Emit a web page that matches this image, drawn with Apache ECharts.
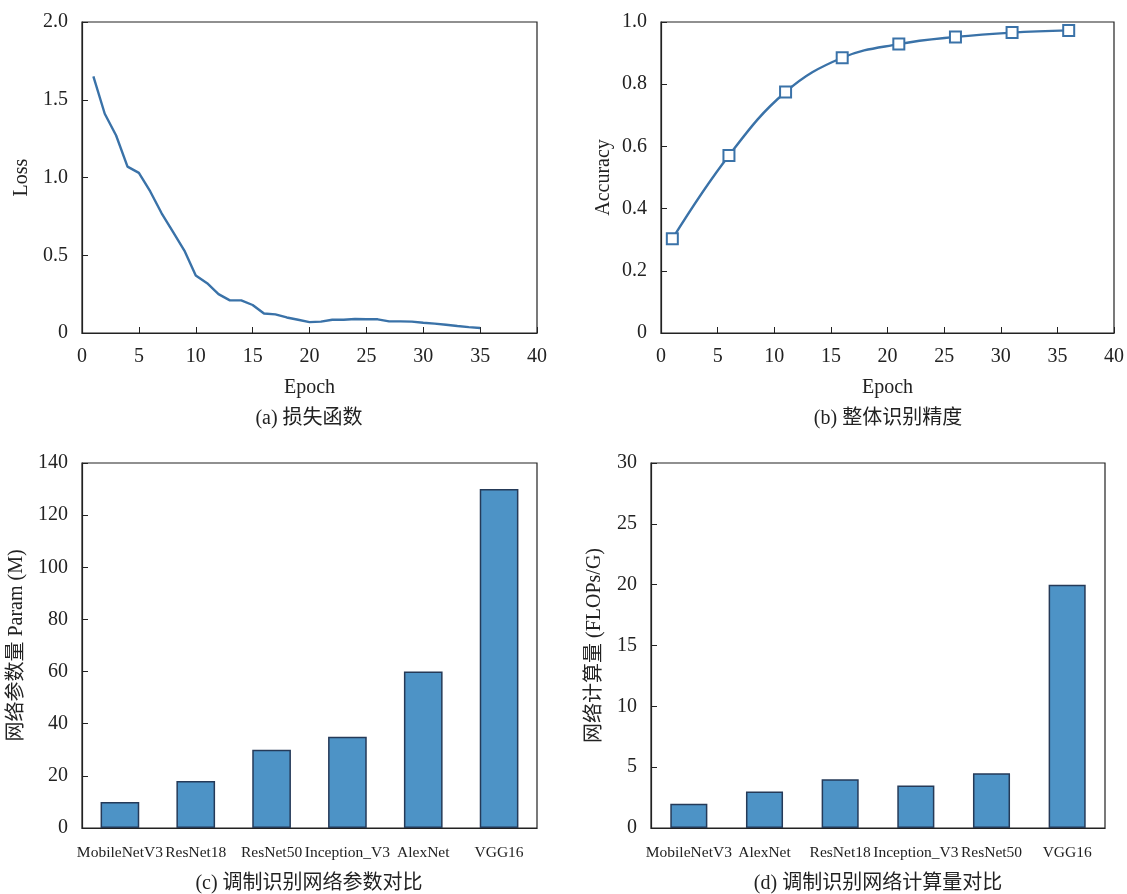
<!DOCTYPE html>
<html>
<head>
<meta charset="utf-8">
<script src="https://cdn.jsdelivr.net/npm/echarts@6/dist/echarts.min.js"></script>
<style>
  html, body { margin: 0; padding: 0; background: #fff; }
  #main { width: 1127px; height: 894px; }
</style>
</head>
<body>
<div id="main"></div>
<script>
// (a) 损失函数
let lossEpochs = [1,2,3,4,5,6,7,8,9,10,11,12,13,14,15,16,17,18,19,20,21,22,23,24,25,26,27,28,29,30,31,32,33,34,35];
let lossValues = [1.65,1.41,1.27,1.07,1.03,0.91,0.77,0.65,0.53,0.37,0.32,0.25,0.21,0.21,0.18,0.125,0.12,0.10,0.085,0.07,0.073,0.085,0.085,0.09,0.088,0.088,0.075,0.075,0.073,0.066,0.06,0.053,0.045,0.038,0.032];

// (b) 整体识别精度
let accEpochs = [1,6,11,16,21,26,31,36];
let accValues = [0.303,0.571,0.775,0.885,0.929,0.952,0.966,0.973];

// (c) 调制识别网络参数对比
let paramNets = ['MobileNetV3','ResNet18','ResNet50','Inception_V3','AlexNet','VGG16'];
let paramValues = [10,18,30,35,60,130];

// (d) 调制识别网络计算量对比
let flopNets = ['MobileNetV3','AlexNet','ResNet18','Inception_V3','ResNet50','VGG16'];
let flopValues = [2,3,4,3.5,4.5,20];

let captions = ['(a) 损失函数','(b) 整体识别精度','(c) 调制识别网络参数对比','(d) 调制识别网络计算量对比'];

let FONT = '"Liberation Serif", "Noto Sans CJK SC", serif';
let AXIS_COLOR = '#222';
let LINE_COLOR = '#3a72a8';
let BAR_COLOR = '#4d93c6';

let chart = echarts.init(document.getElementById('main'));

// 通用坐标轴样式
let axisBase = function (gridIndex) {
    return {
        gridIndex: gridIndex,
        axisLine: { show: true, onZero: false, lineStyle: { color: AXIS_COLOR, width: 1.2 } },
        axisTick: { show: true, inside: true, length: 6, lineStyle: { color: AXIS_COLOR } },
        axisLabel: { color: '#222', fontFamily: FONT, fontSize: 20, margin: 14 },
        splitLine: { show: false },
        nameTextStyle: { color: '#222', fontFamily: FONT, fontSize: 20 },
        nameLocation: 'middle'
    };
};

let numAxis = function (gridIndex, min, max, interval, fmt, extra) {
    return Object.assign(axisBase(gridIndex), {
        type: 'value', min: min, max: max, interval: interval,
        axisLabel: { color: '#222', fontFamily: FONT, fontSize: 20, margin: 14, formatter: fmt }
    }, extra);
};

let catAxis = function (gridIndex, data) {
    return Object.assign(axisBase(gridIndex), {
        type: 'category', data: data,
        axisTick: { show: true, inside: true, length: 6, alignWithLabel: true, lineStyle: { color: AXIS_COLOR } },
        axisLabel: { color: '#222', fontFamily: FONT, fontSize: 15.5, margin: 17, interval: 0 }
    });
};

let oneDec = function (v) { return v === 0 ? '0' : v.toFixed(1); };
let plain = function (v) { return String(v); };

let gridStyle = { show: true, borderColor: AXIS_COLOR, borderWidth: 1.2, containLabel: false };

let caption = function (text, x, y) {
    return { type: 'text', x: x, y: y, style: { text: text, font: '20px ' + FONT, fill: '#222', textAlign: 'center', textVerticalAlign: 'middle' } };
};

chart.setOption({
    backgroundColor: '#fff',
    animation: false,
    grid: [
        Object.assign({ left: 82, top: 22, width: 455, height: 311 }, gridStyle),
        Object.assign({ left: 661, top: 22, width: 454, height: 311 }, gridStyle),
        Object.assign({ left: 82, top: 463, width: 455, height: 365 }, gridStyle),
        Object.assign({ left: 651, top: 463, width: 454, height: 365 }, gridStyle)
    ],
    xAxis: [
        numAxis(0, 0, 40, 5, plain, { name: 'Epoch', nameGap: 45 }),
        numAxis(1, 0, 40, 5, plain, { name: 'Epoch', nameGap: 45 }),
        catAxis(2, paramNets),
        catAxis(3, flopNets)
    ],
    yAxis: [
        numAxis(0, 0, 2, 0.5, oneDec, { name: 'Loss', nameGap: 50 }),
        numAxis(1, 0, 1, 0.2, oneDec, { name: 'Accuracy', nameGap: 47 }),
        numAxis(2, 0, 140, 20, plain, { name: '网络参数量 Param (M)', nameGap: 55 }),
        numAxis(3, 0, 30, 5, plain, { name: '网络计算量 (FLOPs/G)', nameGap: 46 })
    ],
    series: [
        {
            type: 'line', xAxisIndex: 0, yAxisIndex: 0,
            data: lossEpochs.map(function (e, i) { return [e, lossValues[i]]; }),
            showSymbol: false, symbol: 'none',
            lineStyle: { color: LINE_COLOR, width: 2.4 }
        },
        {
            type: 'line', xAxisIndex: 1, yAxisIndex: 1,
            data: accEpochs.map(function (e, i) { return [e, accValues[i]]; }),
            smooth: 0.4,
            symbol: 'emptyRect', symbolSize: 11,
            itemStyle: { color: LINE_COLOR, borderColor: LINE_COLOR, borderWidth: 2 },
            lineStyle: { color: LINE_COLOR, width: 2.4 }
        },
        {
            type: 'bar', xAxisIndex: 2, yAxisIndex: 2,
            data: paramValues, barWidth: '51%',
            itemStyle: { color: BAR_COLOR, borderColor: '#253a58', borderWidth: 1.5 }
        },
        {
            type: 'bar', xAxisIndex: 3, yAxisIndex: 3,
            data: flopValues, barWidth: '49%',
            itemStyle: { color: BAR_COLOR, borderColor: '#253a58', borderWidth: 1.5 }
        }
    ],
    graphic: [
        caption(captions[0], 309, 419),
        caption(captions[1], 888, 419),
        caption(captions[2], 309, 884),
        caption(captions[3], 878, 884)
    ]
});
</script>
</body>
</html>
